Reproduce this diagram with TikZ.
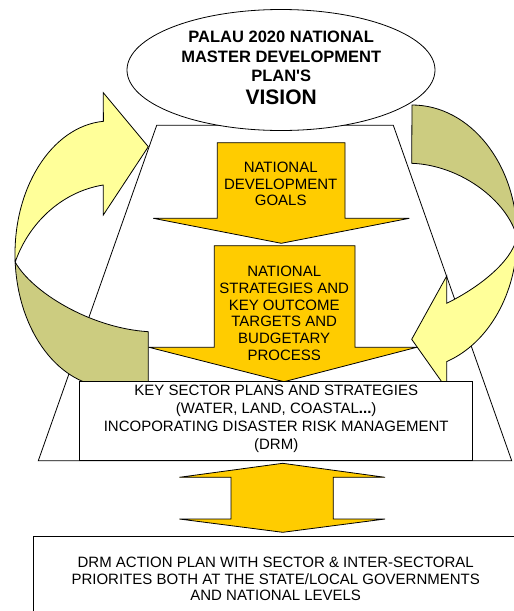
\documentclass[tikz,border=0pt]{standalone}
\usepackage{fontspec}
\setmainfont{Liberation Sans}
\usetikzlibrary{shapes.geometric}
\definecolor{goldc}{HTML}{FFCC00}
\definecolor{lightyel}{HTML}{FFFF99}
\definecolor{olivec}{HTML}{CCCC80}
\begin{document}
\begin{tikzpicture}[x=1pt,y=-1pt,line join=miter,
  outl/.style={draw=black,line width=0.8pt},
  goldarrow/.style={outl,fill=goldc},
  frontband/.style={outl,fill=lightyel},
  backband/.style={outl,fill=olivec},
  txt/.style={align=center,inner sep=0pt,font=\fontsize{15}{16.7}\selectfont},
  ttl/.style={align=center,inner sep=0pt,font=\fontsize{16.5}{19.7}\selectfont\bfseries}]
\useasboundingbox (0,0) rectangle (514,611);
\clip (0,0) rectangle (514,611);
\fill[white] (0,0) rectangle (514,611);
% trapezoid
\draw[outl,fill=white] (156.7,125.3) -- (393.3,125.3) -- (511.7,460.7) -- (38.3,460.7) -- cycle;
% vision ellipse
\node[outl,fill=white,ellipse,minimum width=308pt,minimum height=121pt,inner sep=0pt] (vision) at (281,70) {};
\node[ttl] (vtitle) at (281.2,56.4) {PALAU 2020 NATIONAL\\MASTER DEVELOPMENT\\PLAN\textquotesingle S};
\node[inner sep=0pt,font=\fontsize{21}{24}\selectfont\bfseries] (vword) at (281.2,97.2) {VISION};
% central arrows
\draw[goldarrow] (217.3,142.7) -- (345,142.7) -- (345,218.3) -- (409.3,218.3) -- (281.3,243.3) -- (153.3,218.3) -- (217.3,218.3) -- cycle;
\node[txt] (goals) at (280.7,184) {NATIONAL\\DEVELOPMENT\\GOALS};
\draw[goldarrow] (214.3,245.7) -- (355,245.7) -- (355,347.3) -- (416.7,347.3) -- (284,381.7) -- (149,347.3) -- (214.3,347.3) -- cycle;
\node[txt] (strat) at (284.2,313.4) {NATIONAL\\STRATEGIES AND\\KEY OUTCOME\\TARGETS AND\\BUDGETARY\\PROCESS};
% left curved arrow
\draw[backband] (15.18,262.1) arc[start angle=176.5,end angle=90,x radius=95,y radius=133]
  -- (148.3,387) -- (148.3,331.7) .. controls (90,328) and (32,292) .. (15.18,262.1) -- cycle;
\draw[frontband] (15.18,262.1) arc[start angle=176.5,end angle=266,x radius=95,y radius=133]
  -- (103.3,92.7) -- (148.3,146.7) -- (103.3,215) -- (103.3,185)
  .. controls (60,192) and (28,225) .. (15.18,262.1) -- cycle;
% right curved arrow
\draw[backband] (412,105) arc[start angle=270,end angle=360,x radius=105,y radius=132]
  .. controls (507,200) and (460,165) .. (411.7,163.3) -- cycle;
\draw[frontband] (517,237) arc[start angle=0,end angle=70.7,x radius=105,y radius=132]
  -- (446.7,388.8) -- (411.7,339.3) -- (446.7,276) -- (446.7,303.3)
  .. controls (478,288) and (512,262) .. (517,237) -- cycle;
% key sector box
\node[outl,fill=white,minimum width=393.4pt,minimum height=79pt,inner sep=0pt] (key) at (276,421.2) {};
\node[txt,font=\fontsize{15}{17.8}\selectfont] (keytext) at (276.2,418.9) {KEY SECTOR PLANS AND STRATEGIES\\(WATER, LAND, COASTAL\textbf{...})\\INCOPORATING DISASTER RISK MANAGEMENT\\(DRM)};
% double arrow
\draw[goldarrow] (282.7,463.3) -- (385,477.3) -- (333.3,477.3) -- (333.3,519) -- (385,519) -- (282.7,532.3) -- (179.3,519) -- (231,519) -- (231,477.3) -- (179.3,477.3) -- cycle;
% bottom box
\node[outl,fill=white,minimum width=500pt,minimum height=100pt,inner sep=0pt,anchor=north west] (drm) at (33.3,536.3) {};
\node[txt] (drmtext) at (275.7,579) {DRM ACTION PLAN WITH SECTOR \& INTER-SECTORAL\\PRIORITES BOTH AT THE STATE/LOCAL GOVERNMENTS\\AND NATIONAL LEVELS};
\end{tikzpicture}
\end{document}
